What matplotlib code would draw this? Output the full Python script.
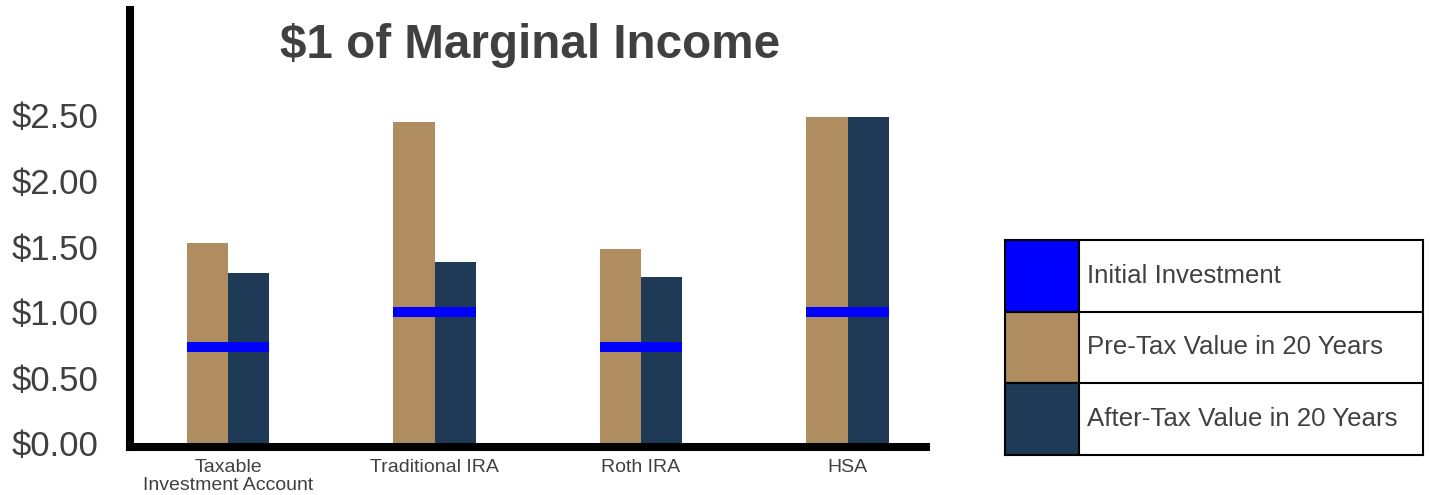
import numpy as np
import matplotlib.pyplot as plt
from matplotlib.patches import Rectangle

plt.rcParams['font.family'] = ['Liberation Sans', 'DejaVu Sans']

ACCOUNTS = ["Taxable\nInvestment Account", "Traditional IRA", "Roth IRA", "HSA"]
INITIAL = [0.73, 1.00, 0.73, 1.00]
PRE_TAX = [1.53, 2.45, 1.48, 2.49]
AFTER_TAX = [1.30, 1.38, 1.27, 2.49]
Y_TICKS = [0.0, 0.5, 1.0, 1.5, 2.0, 2.5]
LEGEND_LABELS = ["Initial Investment", "Pre-Tax Value in 20 Years", "After-Tax Value in 20 Years"]

TAN = "#AF8D61"
NAVY = "#1F3A56"
BLUE = "#0000FF"
TEXT = "#404040"

W, H = 1430, 495
fig = plt.figure(figsize=(W / 100, H / 100), dpi=100)

# ---- main bar chart ----
ax = fig.add_axes([130 / W, (H - 447) / H, (926 - 130) / W, (447 - 10) / H])

x = np.arange(len(ACCOUNTS))
bw = 0.2
ax.bar(x - bw / 2, PRE_TAX, width=bw, color=TAN, zorder=2)
ax.bar(x + bw / 2, AFTER_TAX, width=bw, color=NAVY, zorder=2)
ax.hlines(INITIAL, x - bw, x + bw, colors=BLUE, linewidth=7.2, zorder=3)

ax.set_xlim(-0.475, 3.38)
ax.set_ylim(-0.03, 3.305)
ax.set_xticks(x)
ax.set_xticklabels(ACCOUNTS, fontsize=14, color=TEXT, linespacing=1.05)
ax.set_yticks(Y_TICKS)
ax.set_yticklabels([f"${v:.2f}" for v in Y_TICKS], fontsize=25, color=TEXT)
ax.tick_params(axis="y", length=0, pad=23)
ax.tick_params(axis="x", length=0, pad=9)

for side in ["top", "right"]:
    ax.spines[side].set_visible(False)
for side in ["left", "bottom"]:
    ax.spines[side].set_linewidth(5.8)
    ax.spines[side].set_color("black")
    ax.spines[side].set_capstyle("projecting")

fig.text(530 / W, 1 - 45 / H, "$1 of Marginal Income", ha="center", va="center",
         fontsize=34.3, fontweight="bold", color=TEXT)

# ---- legend table ----
lax = fig.add_axes([1005 / W, (H - 455) / H, (1423 - 1005) / W, (455 - 240) / H])
lax.set_xlim(0, 1)
lax.set_ylim(0, 3)
lax.set_xticks([])
lax.set_yticks([])
for s in lax.spines.values():
    s.set_linewidth(1.5)
    s.set_color("black")

sw = 74 / 418
for i, (lbl, col) in enumerate(zip(LEGEND_LABELS, [BLUE, TAN, NAVY])):
    row = 2 - i
    lax.add_patch(Rectangle((0, row), sw, 1, facecolor=col, edgecolor="black", linewidth=1.5))
    lax.text(sw + 0.02, row + 0.5, lbl, ha="left", va="center", fontsize=18.6, color=TEXT)
    if row > 0:
        lax.axhline(row, color="black", linewidth=1.5)

fig.savefig("out.png", dpi=100)
